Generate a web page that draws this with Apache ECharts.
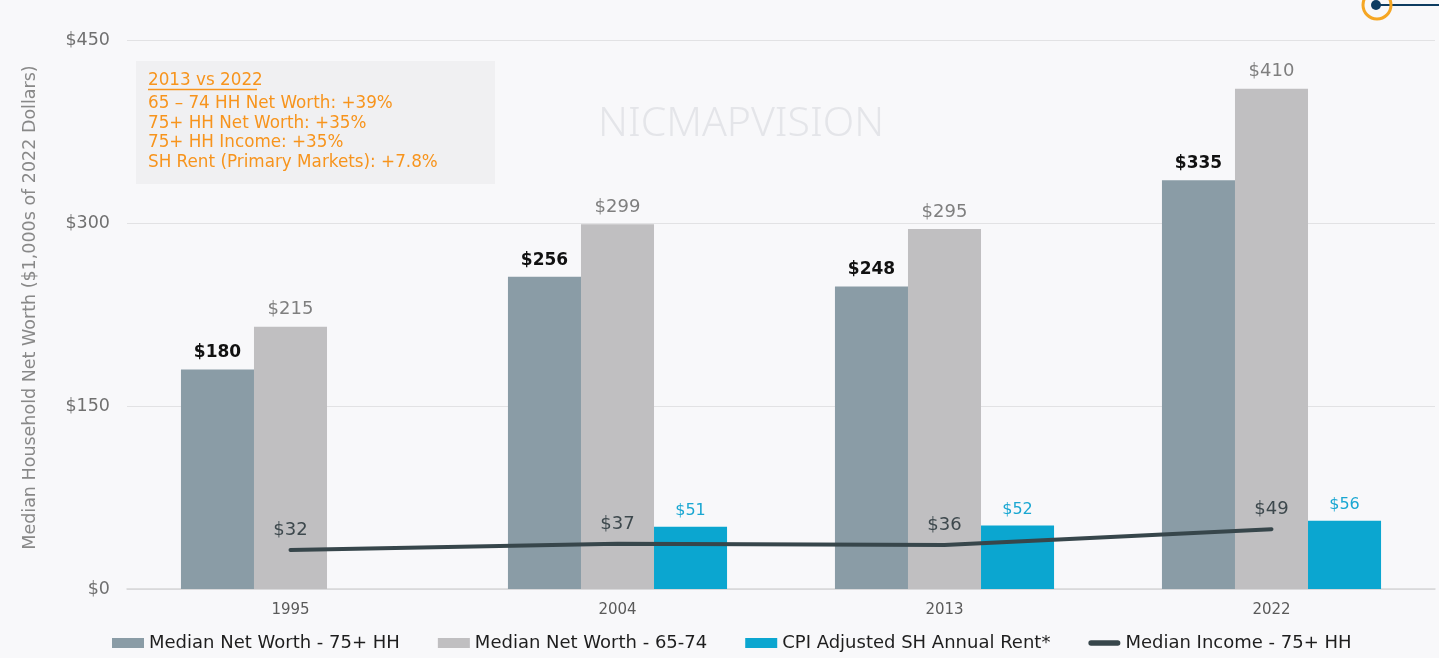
<!DOCTYPE html>
<html>
<head>
<meta charset="utf-8">
<script src="https://cdn.jsdelivr.net/npm/echarts@6/dist/echarts.min.js"></script>
<style>
  html, body { margin: 0; padding: 0; background: #f8f8fa; }
  #main { width: 1439px; height: 658px; }
</style>
</head>
<body>
<div id="main"></div>
<script>
var years = ['1995', '2004', '2013', '2022'];
var netWorth75 = [180, 256, 248, 335];
var netWorth6574 = [215, 299, 295, 410];
var shRent = [null, 51, 52, 56];
var income75 = [32, 37, 36, 49];
var noteTitle = '2013 vs 2022';
var noteLines = [
    '65 \u2013 74 HH Net Worth: +39%',
    '75+ HH Net Worth: +35%',
    '75+ HH Income: +35%',
    'SH Rent (Primary Markets): +7.8%'
];

var FONT = 'DejaVu Sans';
var chartDom = document.getElementById('main');
var myChart = echarts.init(chartDom, null, { width: 1439, height: 658 });

function money(p) { return '$' + p.value; }

var noteFont = '16.8px "' + FONT + '"';
var noteTexts = noteLines.map(function (t, i) {
    return {
        type: 'text',
        x: 148,
        y: 103.5 + i * 19.8,
        z: 101,
        style: { text: t, fill: '#f7941d', font: noteFont, verticalAlign: 'middle' }
    };
});

var option = {
    backgroundColor: '#f8f8fa',
    textStyle: { fontFamily: FONT },
    grid: { left: 127, right: 4, top: 40, bottom: 69 },
    legend: {
        left: 107,
        bottom: 1,
        padding: 5,
        itemWidth: 32,
        itemHeight: 10,
        itemGap: 38,
        textStyle: { fontSize: 18, color: '#1e1e1e', fontFamily: FONT },
        data: [
            { name: 'Median Net Worth - 75+ HH', icon: 'rect' },
            { name: 'Median Net Worth - 65-74', icon: 'rect' },
            { name: 'CPI Adjusted SH Annual Rent*', icon: 'rect' },
            { name: 'Median Income - 75+ HH', icon: 'path://M3,0h30a3,3 0 0 1 0,6h-30a3,3 0 0 1 0,-6z' }
        ]
    },
    xAxis: {
        type: 'category',
        data: years,
        axisTick: { show: false },
        axisLine: { lineStyle: { color: '#d6d6d8', width: 1.5 } },
        axisLabel: { color: '#5a5a5a', fontSize: 15, margin: 14 }
    },
    yAxis: {
        type: 'value',
        min: 0,
        max: 450,
        interval: 150,
        name: 'Median Household Net Worth ($1,000s of 2022 Dollars)',
        nameLocation: 'middle',
        nameGap: 88,
        nameTextStyle: { color: '#888', fontSize: 17.5, padding: [0, 0, 0, 14] },
        axisLabel: { color: '#707070', fontSize: 17.5, margin: 17, formatter: '${value}' },
        axisTick: { show: false },
        splitLine: { lineStyle: { color: '#e2e2e4', width: 1 } }
    },
    series: [
        {
            name: 'Median Net Worth - 75+ HH',
            type: 'bar',
            data: netWorth75,
            barGap: '0%',
            barCategoryGap: '33%',
            itemStyle: { color: '#8a9ca6' },
            label: { show: true, position: 'top', distance: 8, formatter: money,
                color: '#111', fontSize: 17, fontWeight: 'bold' }
        },
        {
            name: 'Median Net Worth - 65-74',
            type: 'bar',
            data: netWorth6574,
            itemStyle: { color: '#c0bfc1' },
            label: { show: true, position: 'top', distance: 8, formatter: money,
                color: '#7f7f7f', fontSize: 18 }
        },
        {
            name: 'CPI Adjusted SH Annual Rent*',
            type: 'bar',
            data: shRent,
            itemStyle: { color: '#0ba6d0' },
            label: { show: true, position: 'top', distance: 8, formatter: money,
                color: '#1aa7d2', fontSize: 16 }
        },
        {
            name: 'Median Income - 75+ HH',
            type: 'line',
            data: income75,
            z: 5,
            symbol: 'circle',
            symbolSize: 1,
            showSymbol: true,
            lineStyle: { color: '#37464b', width: 4, cap: 'round' },
            itemStyle: { color: '#37464b' },
            label: { show: true, position: 'top', distance: 10, formatter: money,
                color: '#3d484d', fontSize: 18 }
        }
    ],
    graphic: [
        {
            type: 'text',
            left: 598,
            top: 104,
            z: 0,
            style: { text: 'NICMAPVISION', fill: '#e4e5e9', font: '300 41px "Noto Sans"' }
        },
        {
            type: 'rect',
            left: 136,
            top: 61,
            z: 100,
            shape: { width: 359, height: 123 },
            style: { fill: '#f0f0f2' }
        },
        {
            type: 'text',
            x: 148,
            y: 81,
            z: 101,
            style: { text: noteTitle, fill: '#f7941d', font: noteFont, verticalAlign: 'middle' }
        },
        {
            type: 'line',
            z: 101,
            shape: { x1: 148, y1: 89.5, x2: 257, y2: 89.5 },
            style: { stroke: '#f7941d', lineWidth: 1.5 }
        }
    ].concat(noteTexts).concat([
        {
            type: 'line',
            shape: { x1: 1380, y1: 5, x2: 1439, y2: 5 },
            style: { stroke: '#0d3c61', lineWidth: 2 }
        },
        {
            type: 'circle',
            shape: { cx: 1377, cy: 5, r: 14 },
            style: { fill: 'none', stroke: '#f5a623', lineWidth: 3 }
        },
        {
            type: 'circle',
            shape: { cx: 1376, cy: 5, r: 5 },
            style: { fill: '#0d3c61' }
        }
    ])
};

option && myChart.setOption(option);
</script>
</body>
</html>
